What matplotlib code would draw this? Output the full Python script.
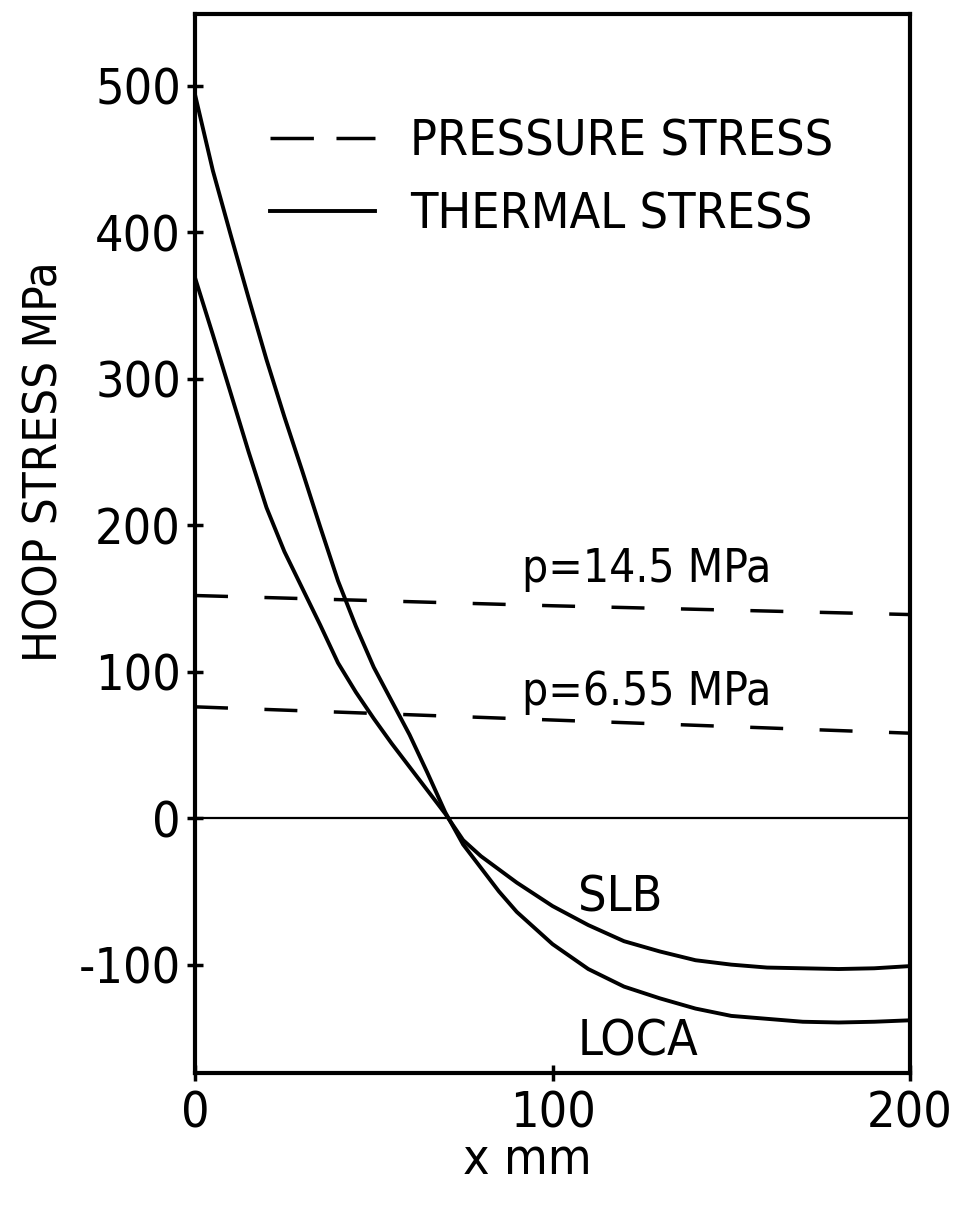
import matplotlib
matplotlib.use('Agg')
import matplotlib.pyplot as plt
from matplotlib.lines import Line2D

plt.rcParams['font.family'] = ['DejaVu Sans']
plt.rcParams['font.stretch'] = 'condensed'
plt.rcParams['axes.unicode_minus'] = False

# thermal hoop stress through the wall, x in mm
x_th = [0, 5, 10, 15, 20, 25, 30, 35, 40, 45, 50, 55, 60, 65, 70, 75, 80, 85,
        90, 95, 100, 110, 120, 130, 140, 150, 160, 170, 180, 190, 200]
loca = [494, 442, 398, 355, 313, 274, 237, 199, 162, 131, 103, 80, 57, 31, 4,
        -18, -34, -50, -64, -75, -86, -103, -115, -123, -130, -135, -137,
        -139, -139.5, -139, -138]
slb = [369, 330, 290, 250, 212, 182, 157, 132, 106, 86, 68, 51, 35, 19, 3,
       -15, -26, -35, -44, -52, -60, -73, -84, -91, -97, -100, -102, -102.5,
       -103, -102.5, -101]

# pressure stress
x_p = [0, 100, 200]
p_high = [152, 145, 139]
p_low = [76, 67, 58]

fig = plt.figure(figsize=(9.55, 12.07), dpi=100)
ax = fig.add_axes([0.2042, 0.1110, 0.7487, 0.8774])

ax.plot(x_th, loca, color='black', lw=2.8)
ax.plot(x_th, slb, color='black', lw=2.8)
ax.plot(x_p, p_high, color='black', lw=2.5, dashes=(9.5, 10.5))
ax.plot(x_p, p_low, color='black', lw=2.5, dashes=(9.5, 10.5))
ax.axhline(0, color='black', lw=1.6)

ax.set_xlim(0, 200)
ax.set_ylim(-174, 549)
ax.set_xticks([0, 100, 200])
ax.set_yticks([-100, 0, 100, 200, 300, 400, 500])
ax.tick_params(direction='inout', length=12, width=2.5, labelsize=36, pad=4)
ax.tick_params(axis='x', pad=6)
for s in ax.spines.values():
    s.set_linewidth(3)

fs = 36
ax.text(91.5, 161, 'p=14.5 MPa', fontsize=33, va='baseline')
ax.text(91.5, 77, 'p=6.55 MPa', fontsize=33, va='baseline')
ax.text(107, -64, 'SLB', fontsize=fs, va='baseline')
ax.text(107, -162, 'LOCA', fontsize=fs, va='baseline')

handles = [Line2D([], [], color='black', lw=2.5, dashes=(12.5, 6.5)),
           Line2D([], [], color='black', lw=2.8)]
ax.legend(handles, ['PRESSURE STRESS', 'THERMAL STRESS'], loc='upper left',
          bbox_to_anchor=(0.105, 0.902), frameon=False, fontsize=fs,
          handlelength=2.1, handletextpad=0.7, labelspacing=0.5,
          borderpad=0, borderaxespad=0)

fig.text(45 / 955, 1 - 462 / 1207, 'HOOP STRESS MPa', fontsize=34,
         rotation=90, ha='center', va='center')
fig.text(527 / 955, 1 - 1160 / 1207, 'x mm', fontsize=fs,
         ha='center', va='center')

fig.savefig('out.png', dpi=100)
